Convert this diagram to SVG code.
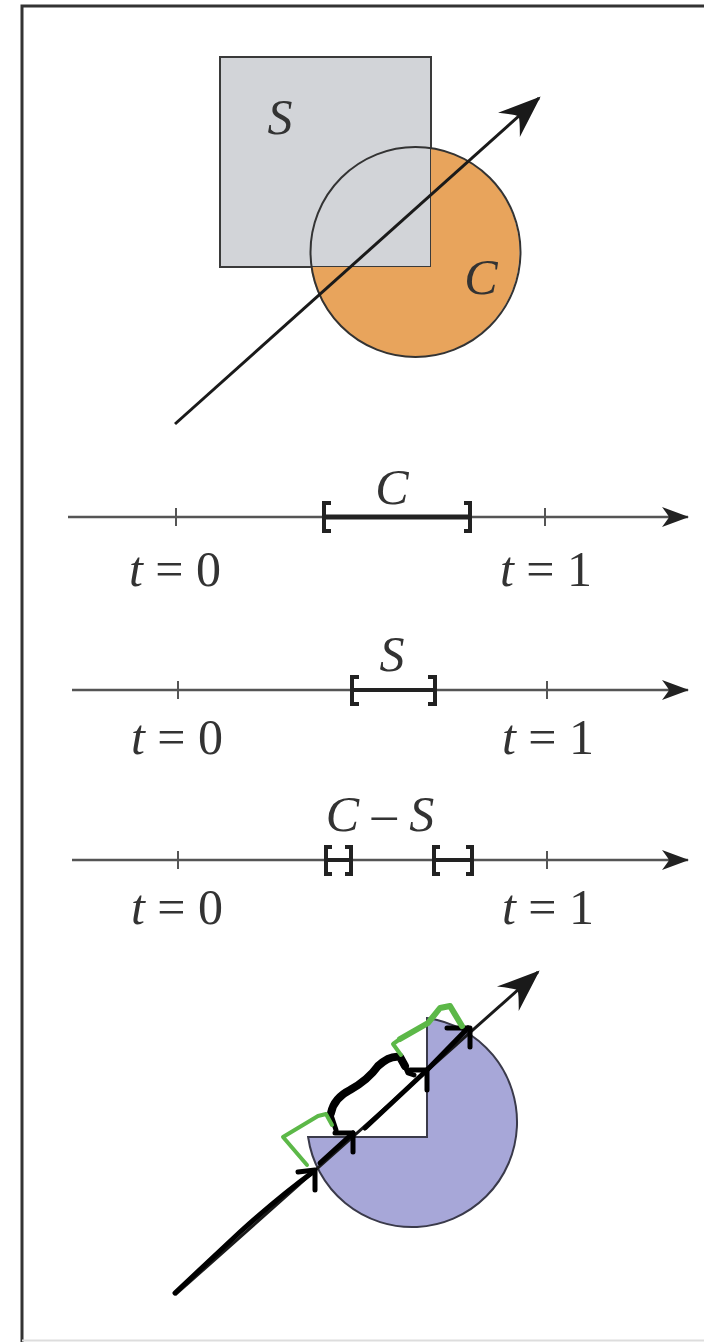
<svg xmlns="http://www.w3.org/2000/svg" width="704" height="1342" viewBox="0 0 704 1342">
<style>
.lbl{font-family:"Liberation Serif","DejaVu Serif",serif;font-style:italic;fill:#333;}
.rm{font-style:normal;}
.nl{stroke:#555;stroke-width:2.5;fill:none;}
.tick{stroke:#555;stroke-width:2;}
.br{stroke:#222;stroke-width:4;fill:none;}
.ray{stroke:#1a1a1a;stroke-width:3;fill:none;}
.ann{stroke:#000;stroke-width:5;fill:none;stroke-linecap:round;stroke-linejoin:round;}
.grn{stroke:#5cb848;stroke-width:4;fill:none;stroke-linecap:round;stroke-linejoin:round;}
</style>
<defs>
<marker id="bigArrow" markerUnits="userSpaceOnUse" markerWidth="48" markerHeight="40" viewBox="-40 -18 44 36" refX="0" refY="0" orient="auto">
<path d="M2,0 L-37,-15 Q-27,-4 -25,0 Q-27,4 -37,15 Z" fill="#1a1a1a"/>
</marker>
<marker id="lineArrow" markerUnits="userSpaceOnUse" markerWidth="32" markerHeight="24" viewBox="-28 -12 30 24" refX="0" refY="0" orient="auto">
<path d="M1,0 L-26,-10 Q-20,-2 -19,0 Q-20,2 -26,10 Z" fill="#222"/>
</marker>
</defs>
<rect width="704" height="1342" fill="#fff"/>
<g id="frame">
<path d="M22,1342 V6 H704" stroke="#333" stroke-width="3" fill="none"/>
<line x1="22" y1="1340.5" x2="704" y2="1340.5" stroke="#ddd" stroke-width="2"/>
</g>
<g id="top-figure">
<rect id="square-S" x="220" y="57" width="211" height="210" fill="#d2d4d8" stroke="#3a3a3a" stroke-width="2"/>
<path id="circle-C" d="M431,148.1 A105,105 0 1 1 310.7,267 L431,267 Z" fill="#e8a45c"/>
<circle cx="415.5" cy="252" r="105" fill="none" stroke="#333" stroke-width="2"/>
<line class="ray" x1="175" y1="424" x2="539" y2="98" marker-end="url(#bigArrow)"/>
<text class="lbl" x="280" y="134" font-size="50" text-anchor="middle">S</text>
<text class="lbl" x="481" y="294" font-size="50" text-anchor="middle">C</text>
</g>
<g id="line-C">
<line class="nl" x1="68" y1="517" x2="688" y2="517" marker-end="url(#lineArrow)"/>
<line class="tick" x1="176" y1="508" x2="176" y2="526"/>
<line class="tick" x1="545" y1="508" x2="545" y2="526"/>
<path class="br" d="M331,503 H324 V531 H331 M464,503 H470 V531 H464"/>
<line x1="324" y1="517" x2="470" y2="517" stroke="#222" stroke-width="5"/>
<text class="lbl" x="392" y="504" font-size="50" text-anchor="middle">C</text>
<text class="lbl" x="175" y="586" font-size="50" text-anchor="middle">t<tspan class="rm"> = 0</tspan></text>
<text class="lbl" x="546" y="586" font-size="50" text-anchor="middle">t<tspan class="rm"> = 1</tspan></text>
</g>
<g id="line-S">
<line class="nl" x1="72" y1="690" x2="688" y2="690" marker-end="url(#lineArrow)"/>
<line class="tick" x1="178" y1="681" x2="178" y2="699"/>
<line class="tick" x1="547" y1="681" x2="547" y2="699"/>
<path class="br" d="M359,677 H352 V704 H359 M428,677 H435 V704 H428"/>
<line x1="352" y1="690" x2="435" y2="690" stroke="#222" stroke-width="4"/>
<text class="lbl" x="392" y="671" font-size="50" text-anchor="middle">S</text>
<text class="lbl" x="177" y="754" font-size="50" text-anchor="middle">t<tspan class="rm"> = 0</tspan></text>
<text class="lbl" x="548" y="754" font-size="50" text-anchor="middle">t<tspan class="rm"> = 1</tspan></text>
</g>
<g id="line-CminusS">
<line class="nl" x1="72" y1="860" x2="688" y2="860" marker-end="url(#lineArrow)"/>
<line class="tick" x1="178" y1="851" x2="178" y2="869"/>
<line class="tick" x1="547" y1="851" x2="547" y2="869"/>
<path class="br" d="M332,847 H326 V874 H332 M345,847 H351 V874 H345"/>
<path class="br" d="M440,847 H434 V874 H440 M466,847 H472 V874 H466"/>
<line x1="326" y1="860" x2="351" y2="860" stroke="#222" stroke-width="4"/>
<line x1="434" y1="860" x2="472" y2="860" stroke="#222" stroke-width="4"/>
<text class="lbl" x="380" y="831" font-size="50" text-anchor="middle">C<tspan class="rm"> – </tspan>S</text>
<text class="lbl" x="177" y="924" font-size="50" text-anchor="middle">t<tspan class="rm"> = 0</tspan></text>
<text class="lbl" x="548" y="924" font-size="50" text-anchor="middle">t<tspan class="rm"> = 1</tspan></text>
</g>
<g id="bottom-figure">
<path id="pacman" d="M427,1018.1 A105,105 0 1 1 308.1,1137 L427,1137 Z" fill="#a7a7d8" stroke="#3a3a4a" stroke-width="2"/>
<line class="ray" x1="175" y1="1295" x2="538" y2="972" marker-end="url(#bigArrow)"/>
</g>
<g id="annotations">
<path class="ann" d="M175,1293 L240,1232 Q280,1196 313,1172"/>
<path class="ann" d="M298,1172 L315,1170 L315,1190"/>
<path class="ann" d="M320,1163 L353,1133"/>
<path class="ann" d="M335,1133 L353,1133 L353,1152"/>
<path class="ann" d="M336,1130 L331,1115"/>
<path class="ann" style="stroke-width:8" d="M331,1113 Q334,1098 350,1090 Q368,1080 378,1066 Q390,1055 400,1057 L405,1066"/>
<path class="ann" d="M405,1066 L408,1073 L414,1075"/>
<path class="ann" d="M365,1128 L427,1070"/>
<path class="ann" d="M410,1070 L427,1070 L427,1090"/>
<path class="ann" d="M427,1070 L468,1028"/>
<path class="ann" d="M447,1028 L470,1028 L470,1047"/>
<path class="grn" d="M307,1165 L283,1137 L318,1116 L326,1114 L332,1125"/>
<path class="grn" d="M401,1055 L393,1044 L400,1039"/>
<path class="grn" style="stroke-width:6" d="M400,1039 L428,1023 L440,1008 L450,1006 L462,1026"/>
</g>
</svg>
